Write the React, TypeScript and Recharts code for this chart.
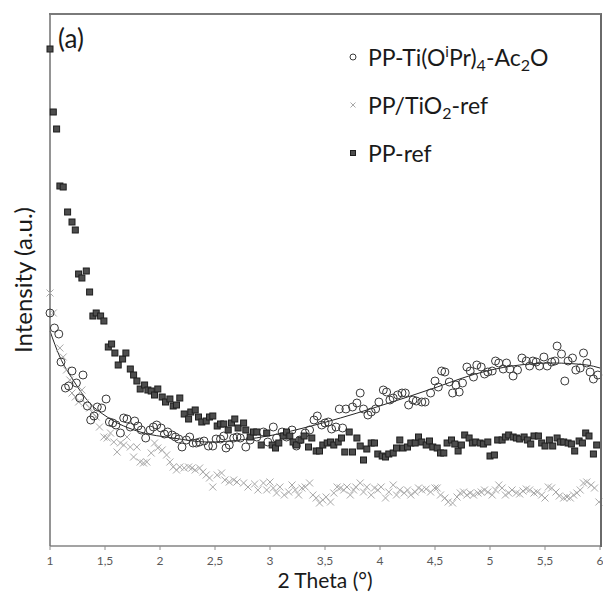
import React from 'react';
import { ComposedChart, Scatter, Line, XAxis, YAxis } from 'recharts';

// [2θ (°), intensity (a.u.)]
const tiPoints: [number, number][] = [
  [1.0, 233], [1.04, 218], [1.08, 212], [1.1, 184], [1.14, 158], [1.17, 160], [1.2, 175], [1.24, 163],
  [1.27, 148], [1.3, 171], [1.34, 140], [1.37, 126], [1.4, 130], [1.43, 139], [1.47, 138], [1.51, 147],
  [1.54, 124], [1.57, 123], [1.6, 121], [1.64, 113], [1.67, 128], [1.7, 127], [1.73, 119], [1.77, 125],
  [1.8, 120], [1.83, 116], [1.87, 108], [1.91, 116], [1.94, 119], [1.97, 121], [2.01, 118], [2.04, 112],
  [2.07, 114], [2.11, 111], [2.14, 109], [2.17, 107], [2.2, 99], [2.24, 106], [2.27, 109], [2.3, 103],
  [2.33, 103], [2.36, 104], [2.4, 105], [2.44, 100], [2.48, 100], [2.51, 107], [2.55, 107], [2.58, 110],
  [2.6, 98], [2.63, 101], [2.67, 108], [2.7, 109], [2.73, 108], [2.78, 99], [2.82, 106], [2.88, 109],
  [2.94, 114], [2.98, 104], [3.03, 119], [3.06, 108], [3.11, 114], [3.15, 109], [3.2, 116], [3.24, 100],
  [3.27, 106], [3.32, 113], [3.36, 116], [3.4, 126], [3.43, 130], [3.47, 121], [3.5, 123], [3.53, 124],
  [3.56, 117], [3.6, 119], [3.63, 137], [3.66, 118], [3.69, 137], [3.75, 139], [3.79, 143], [3.82, 153],
  [3.85, 137], [3.89, 131], [3.92, 134], [3.96, 137], [3.99, 144], [4.03, 156], [4.06, 154], [4.09, 146],
  [4.12, 148], [4.16, 151], [4.2, 153], [4.23, 153], [4.26, 141], [4.3, 146], [4.33, 145], [4.38, 144],
  [4.41, 144], [4.46, 153], [4.5, 165], [4.53, 159], [4.56, 175], [4.59, 174], [4.63, 164], [4.66, 153],
  [4.69, 161], [4.72, 154], [4.75, 163], [4.79, 179], [4.82, 175], [4.85, 169], [4.88, 181], [4.92, 179],
  [4.95, 172], [4.98, 174], [5.02, 175], [5.05, 185], [5.08, 183], [5.12, 177], [5.15, 183], [5.18, 177],
  [5.21, 170], [5.25, 176], [5.29, 188], [5.33, 185], [5.36, 180], [5.39, 185], [5.42, 184], [5.45, 180],
  [5.49, 189], [5.52, 180], [5.56, 184], [5.59, 185], [5.61, 200], [5.65, 192], [5.68, 165], [5.71, 185],
  [5.75, 188], [5.78, 176], [5.82, 178], [5.85, 193], [5.88, 183], [5.91, 174], [5.94, 167], [5.98, 171],
];

const tio2Points: [number, number][] = [
  [1.0, 253], [1.03, 233], [1.09, 198], [1.12, 189], [1.15, 176], [1.18, 166], [1.2, 153], [1.23, 149],
  [1.26, 144], [1.29, 156], [1.32, 143], [1.36, 138], [1.39, 133], [1.42, 129], [1.45, 119], [1.49, 109],
  [1.52, 108], [1.55, 113], [1.58, 104], [1.61, 94], [1.64, 103], [1.67, 101], [1.7, 109], [1.73, 99],
  [1.76, 89], [1.79, 99], [1.82, 84], [1.85, 83], [1.88, 84], [1.92, 93], [1.95, 103], [1.98, 98],
  [2.02, 96], [2.06, 91], [2.09, 84], [2.12, 79], [2.15, 76], [2.18, 79], [2.22, 78], [2.26, 79],
  [2.29, 78], [2.32, 76], [2.36, 78], [2.39, 74], [2.42, 71], [2.45, 68], [2.48, 59], [2.52, 71],
  [2.56, 73], [2.59, 66], [2.63, 64], [2.67, 66], [2.7, 64], [2.76, 63], [2.8, 59], [2.86, 62],
  [2.89, 56], [2.94, 63], [2.97, 56], [3.0, 64], [3.03, 58], [3.06, 53], [3.09, 59], [3.13, 51],
  [3.17, 54], [3.2, 61], [3.23, 56], [3.26, 51], [3.29, 58], [3.32, 59], [3.36, 63], [3.39, 51],
  [3.42, 48], [3.45, 43], [3.48, 46], [3.51, 49], [3.55, 44], [3.58, 53], [3.61, 59], [3.64, 58],
  [3.67, 56], [3.7, 59], [3.73, 51], [3.76, 56], [3.78, 59], [3.82, 63], [3.85, 54], [3.88, 59],
  [3.92, 51], [3.95, 58], [3.98, 56], [4.01, 59], [4.05, 48], [4.08, 54], [4.12, 61], [4.15, 51],
  [4.18, 56], [4.22, 53], [4.25, 56], [4.28, 51], [4.32, 54], [4.35, 58], [4.38, 56], [4.42, 57],
  [4.46, 54], [4.5, 58], [4.52, 58], [4.55, 51], [4.59, 48], [4.62, 44], [4.66, 43], [4.7, 49],
  [4.73, 53], [4.76, 54], [4.79, 51], [4.82, 53], [4.85, 51], [4.89, 53], [4.92, 54], [4.95, 56],
  [4.98, 54], [5.02, 51], [5.05, 56], [5.08, 61], [5.11, 58], [5.14, 51], [5.17, 53], [5.2, 56],
  [5.24, 53], [5.27, 52], [5.3, 55], [5.33, 57], [5.36, 56], [5.4, 53], [5.43, 54], [5.47, 51],
  [5.5, 48], [5.53, 59], [5.56, 58], [5.6, 54], [5.63, 50], [5.67, 48], [5.7, 49], [5.73, 48],
  [5.76, 51], [5.79, 53], [5.82, 56], [5.85, 63], [5.88, 64], [5.92, 61], [5.95, 58], [5.99, 44],
];

const ppPoints: [number, number][] = [
  [1.0, 497], [1.03, 434], [1.06, 417], [1.09, 360], [1.12, 359], [1.16, 334], [1.2, 324], [1.23, 316],
  [1.26, 272], [1.29, 268], [1.33, 275], [1.36, 254], [1.39, 230], [1.42, 233], [1.46, 230], [1.49, 225],
  [1.53, 199], [1.56, 202], [1.59, 193], [1.62, 181], [1.66, 187], [1.69, 193], [1.73, 177], [1.76, 171],
  [1.79, 165], [1.82, 157], [1.86, 161], [1.89, 156], [1.92, 155], [1.95, 151], [1.98, 157], [2.02, 149],
  [2.05, 144], [2.09, 147], [2.12, 140], [2.15, 141], [2.18, 148], [2.22, 132], [2.26, 127], [2.28, 134],
  [2.32, 136], [2.35, 129], [2.38, 124], [2.42, 125], [2.45, 129], [2.48, 130], [2.52, 120], [2.55, 122],
  [2.58, 122], [2.62, 116], [2.65, 123], [2.68, 127], [2.71, 118], [2.76, 123], [2.78, 116], [2.82, 109],
  [2.85, 114], [2.88, 114], [2.92, 101], [2.97, 113], [3.02, 101], [3.05, 98], [3.08, 103], [3.12, 110],
  [3.15, 114], [3.18, 110], [3.21, 104], [3.24, 101], [3.28, 106], [3.31, 110], [3.35, 99], [3.38, 108],
  [3.42, 95], [3.45, 95], [3.48, 101], [3.52, 103], [3.55, 104], [3.58, 101], [3.62, 104], [3.65, 108],
  [3.68, 94], [3.72, 114], [3.75, 94], [3.79, 108], [3.82, 100], [3.85, 86], [3.88, 97], [3.92, 103],
  [3.95, 103], [3.98, 92], [4.02, 90], [4.05, 89], [4.08, 92], [4.12, 93], [4.15, 98], [4.18, 106],
  [4.21, 98], [4.25, 99], [4.28, 103], [4.32, 103], [4.35, 109], [4.38, 104], [4.42, 101], [4.45, 105],
  [4.48, 99], [4.52, 98], [4.55, 93], [4.58, 93], [4.61, 103], [4.65, 106], [4.68, 102], [4.71, 95],
  [4.74, 101], [4.77, 111], [4.81, 108], [4.84, 103], [4.87, 104], [4.91, 103], [4.94, 102], [4.98, 104],
  [5.0, 90], [5.04, 91], [5.07, 106], [5.11, 106], [5.14, 109], [5.17, 111], [5.21, 109], [5.24, 108],
  [5.27, 107], [5.31, 109], [5.34, 106], [5.37, 102], [5.4, 110], [5.44, 110], [5.47, 103], [5.5, 100],
  [5.54, 106], [5.57, 100], [5.61, 108], [5.64, 104], [5.67, 104], [5.71, 103], [5.74, 102], [5.77, 95],
  [5.81, 105], [5.84, 103], [5.87, 113], [5.9, 110], [5.94, 92], [5.97, 101],
];

// trend line through the PP-Ti(OiPr)4-Ac2O points
const fitPoints: [number, number][] = [
  [1.0, 215], [1.09, 189], [1.21, 166], [1.36, 143], [1.52, 129], [1.82, 114], [2.12, 108], [2.43, 104],
  [2.73, 106], [3.03, 111], [3.34, 119], [3.64, 128], [3.94, 138], [4.25, 149], [4.52, 159], [4.75, 168],
  [4.97, 175], [5.27, 181], [5.57, 183], [5.88, 181], [6.0, 178],
];

const xTicks = [1, 1.5, 2, 2.5, 3, 3.5, 4, 4.5, 5, 5.5, 6];

const toXY = (pts: [number, number][]) => pts.map(([x, y]) => ({ x, y }));

const OpenCircle = (p: any) => (
  <circle cx={p.cx} cy={p.cy} r={4} fill="none" stroke="#3a3a3a" strokeWidth={1} />
);
const Cross = (p: any) => {
  const { cx, cy } = p;
  const s = 3.5;
  return (
    <path
      d={`M${cx - s},${cy - s}L${cx + s},${cy + s}M${cx - s},${cy + s}L${cx + s},${cy - s}`}
      stroke="#a8a8a8"
      strokeWidth={1}
    />
  );
};
const Square = (p: any) => (
  <rect x={p.cx - 3} y={p.cy - 3} width={6} height={6} fill="#4d4d4d" stroke="#1e1e1e" strokeWidth={1} />
);

const rowStyle: React.CSSProperties = { display: 'flex', alignItems: 'center', height: 48 };
const subStyle: React.CSSProperties = { fontSize: 16, verticalAlign: -5, lineHeight: 0 };
const supStyle: React.CSSProperties = { fontSize: 15, verticalAlign: 9, lineHeight: 0 };

const LegendBox = () => (
  <div style={{ fontSize: 23, color: '#1a1a1a', lineHeight: 1 }}>
    <div style={rowStyle}>
      <svg width={16} height={16}><circle cx={8} cy={8} r={3} fill="none" stroke="#3a3a3a" /></svg>
      <span style={{ marginLeft: 7 }}>
        PP-Ti(O<span style={supStyle}>i</span>Pr)<span style={subStyle}>4</span>-Ac<span style={subStyle}>2</span>O
      </span>
    </div>
    <div style={rowStyle}>
      <svg width={16} height={16}><path d="M5.5,5.5L10.5,10.5M5.5,10.5L10.5,5.5" stroke="#a8a8a8" /></svg>
      <span style={{ marginLeft: 7 }}>
        PP/TiO<span style={subStyle}>2</span>-ref
      </span>
    </div>
    <div style={rowStyle}>
      <svg width={16} height={16}><rect x={5.5} y={5.5} width={5} height={5} fill="#4d4d4d" stroke="#1e1e1e" /></svg>
      <span style={{ marginLeft: 7 }}>PP-ref</span>
    </div>
  </div>
);

export default function App() {
  return (
    <div
      style={{
        position: 'absolute',
        left: 8,
        top: 8,
        width: 595,
        height: 589,
        fontFamily: 'Lato, sans-serif',
      }}
    >
      <ComposedChart width={595} height={589} margin={{ top: 6, right: 3, left: 0, bottom: 1 }}>
        <XAxis
          type="number"
          dataKey="x"
          domain={[1, 6]}
          ticks={xTicks}
          interval={0}
          tickFormatter={(v: number) => String(v).replace('.', ',')}
          axisLine={{ stroke: '#858585', strokeWidth: 1.5 }}
          tickLine={{ stroke: '#8c8c8c' }}
          tickSize={4}
          tickMargin={6}
          tick={{ fill: '#595959', fontSize: 12 }}
          height={50}
          label={{ value: '2 Theta (°)', position: 'insideBottom', offset: 8, fill: '#1a1a1a', fontSize: 21 }}
        />
        <YAxis
          type="number"
          dataKey="y"
          domain={[0, 532]}
          width={42}
          tick={false}
          tickLine={false}
          axisLine={{ stroke: '#707070', strokeWidth: 1.5 }}
          label={{
            value: 'Intensity (a.u.)',
            angle: -90,
            position: 'insideLeft',
            offset: 15,
            fill: '#1a1a1a',
            fontSize: 24,
            style: { textAnchor: 'middle' },
          }}
        />
        <Scatter data={toXY(tio2Points)} shape={Cross} isAnimationActive={false} />
        <Scatter data={toXY(tiPoints)} shape={OpenCircle} isAnimationActive={false} />
        <Scatter data={toXY(ppPoints)} shape={Square} isAnimationActive={false} />
        <Line
          data={toXY(fitPoints)}
          dataKey="y"
          type="monotone"
          stroke="#262626"
          strokeWidth={1}
          dot={false}
          isAnimationActive={false}
        />
      </ComposedChart>
      {/* top and right edges of the plot frame */}
      <div
        style={{
          position: 'absolute',
          left: 41,
          top: 5,
          width: 553,
          height: 534,
          boxSizing: 'border-box',
          borderTop: '2px solid #7a7a7a',
          borderRight: '2px solid #6a6a6a',
          pointerEvents: 'none',
        }}
      />
      <div style={{ position: 'absolute', left: 337, top: 25, width: 258 }}>
        <LegendBox />
      </div>
      <div style={{ position: 'absolute', left: 50, top: 14, fontSize: 26, color: '#1a1a1a' }}>(a)</div>
    </div>
  );
}
